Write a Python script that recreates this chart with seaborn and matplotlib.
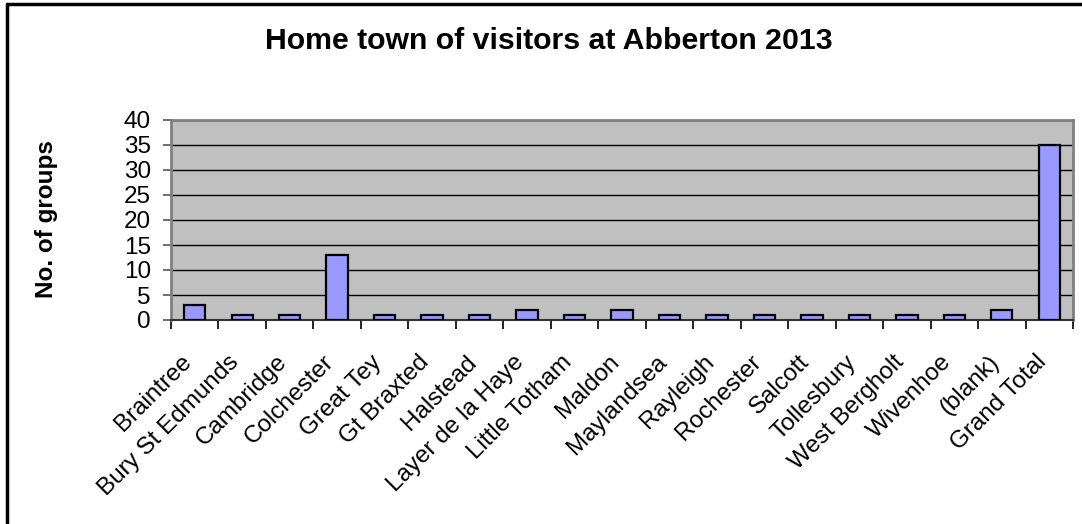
import matplotlib
matplotlib.use("Agg")
import matplotlib.pyplot as plt
from matplotlib.lines import Line2D
from matplotlib.ticker import FixedLocator
from matplotlib.transforms import ScaledTranslation
import seaborn as sns
import pandas as pd
import numpy as np

# Visitor groups per home town
towns = [
    "Braintree", "Bury St Edmunds", "Cambridge", "Colchester", "Great Tey",
    "Gt Braxted", "Halstead", "Layer de la Haye", "Little Totham", "Maldon",
    "Maylandsea", "Rayleigh", "Rochester", "Salcott", "Tollesbury",
    "West Bergholt", "Wivenhoe", "(blank)", "Grand Total",
]
groups = [3, 1, 1, 13, 1, 1, 1, 2, 1, 2, 1, 1, 1, 1, 1, 1, 1, 2, 35]
y_ticks = [0, 5, 10, 15, 20, 25, 30, 35, 40]

title = "Home town of visitors at Abberton 2013"
y_label = "No. of groups"

sns.set_style("white")
plt.rcParams["font.family"] = ["Liberation Sans", "DejaVu Sans"]
plt.rcParams.update({
    "text.color": "black",
    "axes.labelcolor": "black",
    "xtick.labelcolor": "black",
    "ytick.labelcolor": "black",
})

df = pd.DataFrame({"town": towns, "groups": groups})

W, H = 1082, 524
DPI = 100
px = 72 / DPI  # points per pixel

fig = plt.figure(figsize=(W / DPI, H / DPI), dpi=DPI)
ax = fig.add_axes([171 / W, 1 - 320 / H, (1073 - 171) / W, 200 / H])
ax.set_facecolor("#C0C0C0")

sns.barplot(data=df, x="town", y="groups", color="#9999FF", saturation=1,
            edgecolor="black", linewidth=1.6, width=0.45, ax=ax, zorder=3)

ax.set_xlim(-0.5, len(towns) - 0.5)
ax.set_ylim(y_ticks[0], y_ticks[-1])
ax.yaxis.set_major_locator(FixedLocator(y_ticks))
ax.set_yticklabels([str(v) for v in y_ticks], fontsize=17.5, color="black")
ax.grid(axis="y", color="black", linewidth=1.0, zorder=1)
ax.grid(axis="x", visible=False)
ax.set_axisbelow(True)

# Category labels under bars, tick marks between categories
ax.set_xticks(range(len(towns)))
ax.set_xticklabels(towns, rotation=45, ha="right", va="top",
                   rotation_mode="anchor", fontsize=17.5, color="black")
ax.tick_params(axis="x", which="major", length=0, pad=31 * px)
shift = ScaledTranslation(-14 / DPI, 0, fig.dpi_scale_trans)
for lbl in ax.get_xticklabels():
    lbl.set_transform(lbl.get_transform() + shift)
ax.xaxis.set_minor_locator(FixedLocator(np.arange(-0.5, len(towns), 1.0)))
ax.tick_params(axis="x", which="minor", length=9 * px, width=1.2,
               color="black", direction="out", bottom=True)
ax.tick_params(axis="y", length=8 * px, width=1.2, color="#555555",
               direction="out", left=True, pad=12 * px)

ax.set_xlabel("")
ax.set_ylabel("")
for side, sp in ax.spines.items():
    sp.set_visible(True)
    sp.set_color("#808080")
    sp.set_linewidth(2)
ax.spines["bottom"].set_color("#333333")
ax.spines["bottom"].set_linewidth(1.5)

fig.text(549 / W, 1 - 41 / H, title, ha="center", va="center",
         fontsize=21.8, fontweight="bold", color="black")
fig.text(47 / W, 1 - 219 / H, y_label, ha="center", va="center",
         rotation=90, fontsize=17.5, fontweight="bold", color="black")

# Chart frame (top and left edges)
fig.add_artist(Line2D([7 / W, 1.0], [1 - 4 / H, 1 - 4 / H],
                      transform=fig.transFigure, color="black", linewidth=2.5))
fig.add_artist(Line2D([7 / W, 7 / W], [0.0, 1 - 4 / H],
                      transform=fig.transFigure, color="black", linewidth=2.5))

fig.savefig("out.png", dpi=DPI)
